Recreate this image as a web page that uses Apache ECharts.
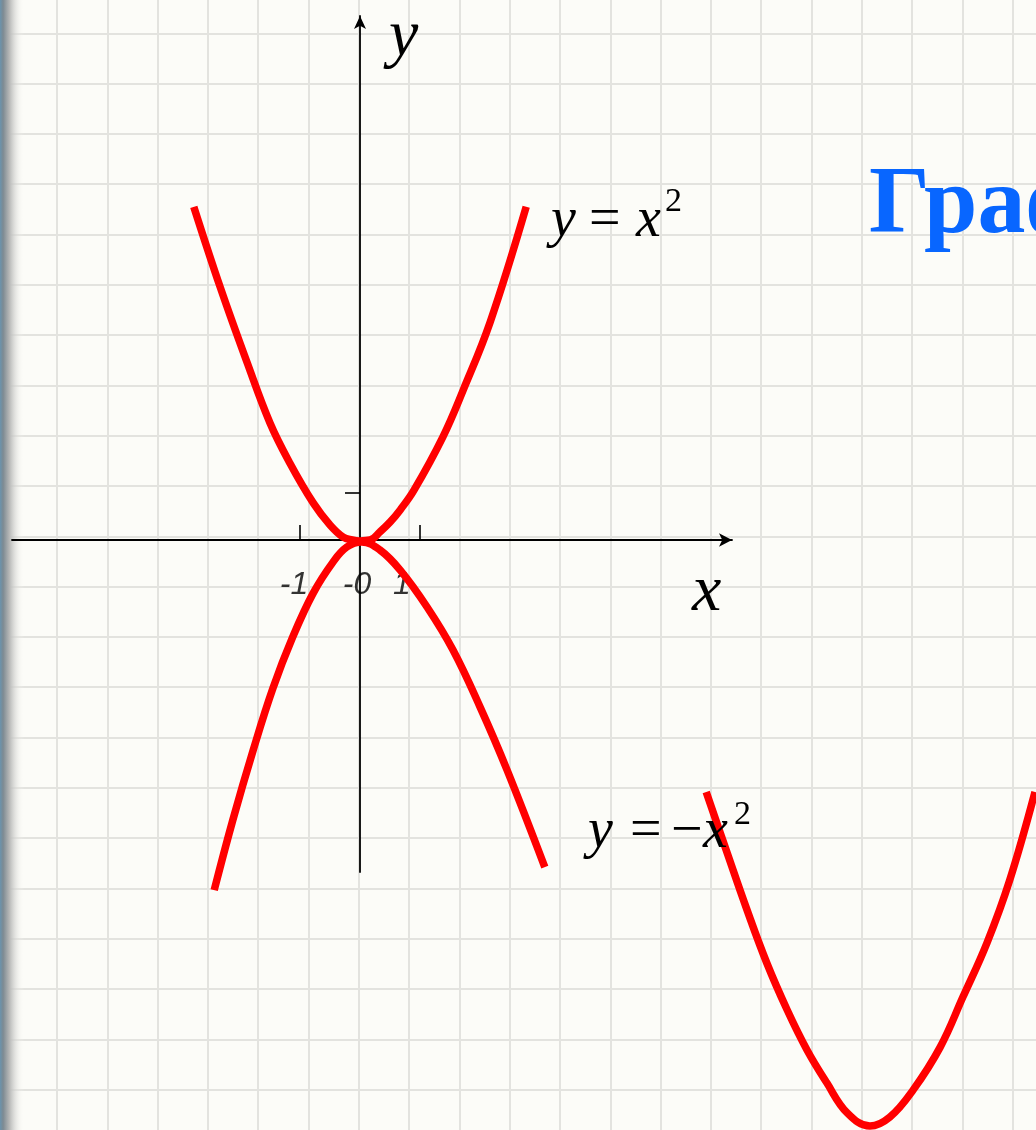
<!DOCTYPE html>
<html>
<head>
<meta charset="utf-8">
<script src="https://cdn.jsdelivr.net/npm/echarts@6/dist/echarts.min.js"></script>
<style>
    html, body { margin: 0; padding: 0; background: #fcfcf8; }
    #chart { width: 1036px; height: 1130px; }
</style>
</head>
<body>
<div id="chart"></div>
<script>
// точки кривых (в единицах осей)
const parabolaUp = [
    [-2.77, 7.09], [-2.33, 5.38], [-1.88, 3.77], [-1.5, 2.49], [-1.17, 1.64], [-0.78, 0.79],
    [-0.5, 0.32], [-0.28, 0.06], [-0.13, 0.0], [0, -0.02], [0.17, 0.0], [0.33, 0.17], [0.5, 0.38],
    [0.67, 0.64], [0.9, 1.06], [1.38, 2.19], [1.72, 3.19], [2.17, 4.64], [2.77, 7.09]
]
const parabolaDown = [
    [-2.43, -7.45], [-2.12, -5.96], [-1.78, -4.47], [-1.45, -3.15], [-1.12, -2.06], [-0.78, -1.13],
    [-0.45, -0.47], [-0.22, -0.15], [0.03, -0.04], [0.33, -0.21], [0.67, -0.64], [1.12, -1.43],
    [1.55, -2.34], [2.0, -3.55], [2.45, -4.89], [3.08, -6.96]
]
const parabolaNext = [
    [5.77, -5.36], [6.12, -6.66], [6.45, -7.87], [6.78, -9.0], [7.12, -10.0], [7.45, -10.85],
    [7.78, -11.55], [8.12, -12.19], [8.5, -12.47], [8.83, -12.28], [9.22, -11.7], [9.67, -10.79],
    [10.05, -9.72], [10.45, -8.57], [10.83, -7.23], [11.25, -5.36]
]
const xTickValues = [-1, 1]
const yTickValues = [1]
const xLabelValues = [-1, 0, 1]
const xLabelTexts = ['-1', '-0', '1']

// разметка
const originX = 360, originY = 540
const unitX = 60, unitY = 47
const axLeft = 12, axRight = 732, axTop = 16, axBottom = 872
const cell = 50.3
const paperLeft = 6.7, paperBottom = 1089.6
const W = 1036, H = 1130
const labelShift = [[-6, 45], [-3, 45], [-18, 45]]

const chart = echarts.init(document.getElementById('chart'))

const curve = (data, idx) => ({
    type: 'line',
    xAxisIndex: idx,
    yAxisIndex: idx,
    data: data,
    smooth: 0.4,
    symbol: 'none',
    clip: false,
    z: 4,
    lineStyle: { color: '#ff0000', width: 7.5 }
})

const paperAxis = (gridIndex, max, showLines) => ({
    type: 'value',
    gridIndex: gridIndex,
    min: 0,
    max: max,
    interval: 1,
    axisLine: { show: false },
    axisTick: { show: false },
    axisLabel: { show: false },
    splitLine: {
        show: showLines,
        showMaxLine: false,
        lineStyle: { color: '#e3e3df', width: 2 }
    }
})

const hiddenAxis = (min, max) => ({
    type: 'value',
    gridIndex: 3,
    min: min,
    max: max,
    show: false
})

const text = (x, y, str, font, z) => ({
    type: 'text',
    x: x,
    y: y,
    z: z || 10,
    style: {
        text: str,
        font: font,
        fill: '#000',
        textAlign: 'left',
        textVerticalAlign: 'middle',
        align: 'left',
        verticalAlign: 'middle'
    }
})

const F = 'italic 56px "Liberation Serif"'
const FU = '56px "Liberation Serif"'
const FS = '34px "Liberation Serif"'

chart.setOption({
    animation: false,
    backgroundColor: '#fcfcf8',
    grid: [
        // вертикальные линии клетки
        { left: paperLeft, top: 0, width: W - paperLeft, height: H },
        // горизонтальные линии клетки
        { left: 0, top: 0, width: W, height: paperBottom },
        // оси
        { left: axLeft, top: axTop, width: axRight - axLeft, height: axBottom - axTop },
        // вторая парабола справа внизу
        { left: 600, top: 700, width: W - 600, height: H - 700 }
    ],
    xAxis: [
        paperAxis(0, (W - paperLeft) / cell, true),
        paperAxis(1, 1, false),
        {
            type: 'value',
            gridIndex: 2,
            min: (axLeft - originX) / unitX,
            max: (axRight - originX) / unitX,
            z: 3,
            axisLine: {
                show: true,
                onZero: true,
                symbol: ['none', 'arrow'],
                symbolSize: [10, 13],
                lineStyle: { color: '#000', width: 1.8 }
            },
            axisTick: {
                show: true,
                inside: true,
                length: 15,
                customValues: xTickValues,
                lineStyle: { color: '#000', width: 1.6 }
            },
            axisLabel: { show: false },
            splitLine: { show: false }
        },
        hiddenAxis((600 - originX) / unitX, (W - originX) / unitX)
    ],
    yAxis: [
        paperAxis(0, 1, false),
        paperAxis(1, paperBottom / cell, true),
        {
            type: 'value',
            gridIndex: 2,
            min: (originY - axBottom) / unitY,
            max: (originY - axTop) / unitY,
            z: 3,
            axisLine: {
                show: true,
                onZero: true,
                symbol: ['none', 'arrow'],
                symbolSize: [9, 13],
                lineStyle: { color: '#000', width: 1.8 }
            },
            axisTick: {
                show: true,
                length: 15,
                customValues: yTickValues,
                lineStyle: { color: '#000', width: 1.6 }
            },
            axisLabel: { show: false },
            splitLine: { show: false }
        },
        hiddenAxis((originY - H) / unitY, (originY - 700) / unitY)
    ],
    series: [
        curve(parabolaUp, 2),
        curve(parabolaDown, 2),
        curve(parabolaNext, 3),
        {
            // подписи делений оси x
            type: 'scatter',
            xAxisIndex: 2,
            yAxisIndex: 2,
            symbolSize: 0,
            silent: true,
            z: 3,
            data: xLabelValues.map((v, i) => ({
                value: [v, 0],
                label: { offset: labelShift[i] }
            })),
            label: {
                show: true,
                position: 'inside',
                color: '#000',
                fontFamily: 'Liberation Sans',
                fontStyle: 'italic',
                fontSize: 32,
                formatter: (p) => xLabelTexts[p.dataIndex]
            }
        }
    ],
    graphic: [
        {
            type: 'rect',
            z: 1,
            shape: { x: 0, y: 0, width: 24, height: H },
            style: {
                fill: new echarts.graphic.LinearGradient(0, 0, 1, 0, [
                    { offset: 0, color: '#6a93ad' },
                    { offset: 0.13, color: '#7d8a92' },
                    { offset: 0.4, color: '#b9bab9' },
                    { offset: 1, color: 'rgba(252,252,248,0)' }
                ])
            }
        },
        text(389, 38, 'y', 'italic 66px "Liberation Serif"'),
        text(692, 593, 'x', 'italic 66px "Liberation Serif"'),
        // y = x^2
        text(551, 221, 'y', F),
        text(589, 221, '=', FU),
        text(636, 221, 'x', F),
        text(665, 202, '2', FS),
        // y = -x^2
        text(588, 832, 'y', F),
        text(630, 832, '=', FU),
        text(671, 832, '\u2212', FU),
        text(703, 832, 'x', F),
        text(734, 815, '2', FS),
        {
            type: 'text',
            x: 869,
            y: 207,
            z: 10,
            style: {
                text: 'Графики',
                font: 'bold 96px "Liberation Serif"',
                fill: '#0866ff',
                textAlign: 'left',
                textVerticalAlign: 'middle',
                align: 'left',
                verticalAlign: 'middle'
            }
        }
    ]
})
</script>
</body>
</html>
